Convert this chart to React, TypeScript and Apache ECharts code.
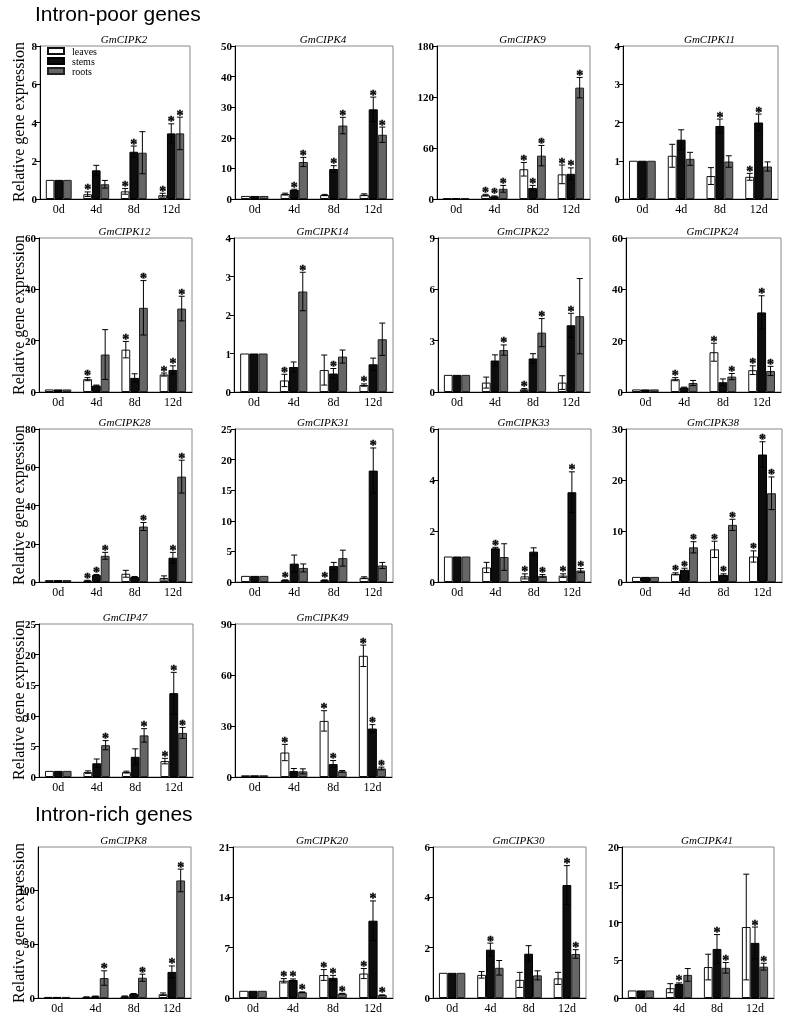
import React, { useEffect, useRef } from "react";
import * as echarts from "echarts";

const genes = [
  "GmCIPK2", "GmCIPK4", "GmCIPK9", "GmCIPK11",
  "GmCIPK12", "GmCIPK14", "GmCIPK22", "GmCIPK24",
  "GmCIPK28", "GmCIPK31", "GmCIPK33", "GmCIPK38",
  "GmCIP47", "GmCIPK49",
  "GmCIPK8", "GmCIPK20", "GmCIPK30", "GmCIPK41",
];
const yMax = [8, 50, 180, 4, 60, 4, 9, 60, 80, 25, 6, 30, 25, 90, 140, 21, 6, 20];
const yStep = [2, 10, 60, 1, 20, 1, 3, 20, 20, 5, 2, 10, 5, 30, 50, 7, 2, 5];
const categories = ["0d", "4d", "8d", "12d"];
const tissues = ["leaves", "stems", "roots"];
const groupTitles = ["Intron-poor genes", "Intron-rich genes"];
const yTitle = "Relative gene expression";

const leavesMean = [
  [1, 0.25, 0.4, 0.2], [1, 1.6, 1.3, 1.4], [1, 4.5, 35, 29], [1, 1.13, 0.6, 0.58],
  [1, 5, 16.5, 6.8], [1, 0.3, 0.57, 0.18], [1, 0.55, 0.15, 0.55], [1, 5, 15.5, 8.5],
  [1, 0.7, 4.3, 2.1], [1, 0.3, 0.3, 0.7], [1, 0.57, 0.22, 0.25], [1, 1.6, 6.4, 5],
  [1, 0.8, 0.8, 2.6], [1, 14.4, 33, 71.3],
  [1, 0.8, 1.5, 3.5], [1, 2.4, 3.2, 3.4], [1, 0.92, 0.72, 0.78], [1, 1.3, 4.1, 9.4],
];
const leavesErr = [
  [0, 0.12, 0.15, 0.1], [0, 0.3, 0.2, 0.3], [0, 1, 8, 11], [0, 0.3, 0.22, 0.09],
  [0, 0.6, 3.2, 0.6], [0, 0.16, 0.39, 0.03], [0, 0.32, 0.05, 0.4], [0, 0.6, 3.5, 1.7],
  [0, 0.2, 1.8, 1.1], [0, 0.05, 0.05, 0.15], [0, 0.2, 0.1, 0.07], [0, 0.2, 1.6, 1.1],
  [0, 0.2, 0.15, 0.45], [0, 4.8, 6, 6.3],
  [0, 0.3, 0.4, 1.2], [0, 0.3, 0.75, 0.7], [0, 0.13, 0.3, 0.24], [0, 0.6, 1.7, 7],
];
const leavesSig = [
  "0111", "0000", "0111", "0001", "0111", "0101", "0010", "0111",
  "0100", "0110", "0011", "0111", "0001", "0111", "0000", "0111", "0000", "0000",
];

const stemsMean = [
  [1, 1.5, 2.47, 3.43], [1, 3, 9.8, 29.3], [1, 3, 13, 29.6], [1, 1.55, 1.91, 2.0],
  [1, 2.5, 5.5, 8.6], [1, 0.65, 0.48, 0.72], [1, 1.84, 1.96, 3.9], [1, 1.7, 3.8, 31],
  [1, 3.65, 2.6, 12.7], [1, 3.0, 2.6, 18.2], [1, 1.32, 1.19, 3.52], [1, 2.4, 1.4, 25],
  [1, 2.24, 3.3, 13.7], [1, 3.5, 7.6, 28.5],
  [1, 1.5, 3.8, 24.2], [1, 2.5, 2.8, 10.75], [1, 1.92, 1.76, 4.49], [1, 1.88, 6.5, 7.3],
];
const stemsErr = [
  [0, 0.26, 0.3, 0.5], [0, 0.2, 1.1, 4], [0, 0.6, 3, 7], [0, 0.26, 0.18, 0.22],
  [0, 0.2, 1.6, 1.6], [0, 0.13, 0.13, 0.16], [0, 0.33, 0.28, 0.7], [0, 0.2, 1.3, 6.5],
  [0, 0.3, 0.3, 2.8], [0, 1.4, 0.6, 3.7], [0, 0.04, 0.15, 0.8], [0, 0.3, 0.2, 2.5],
  [0, 0.7, 1.3, 3.4], [0, 1.5, 2.1, 2.3],
  [0, 0.3, 0.4, 5.5], [0, 0.15, 0.35, 2.75], [0, 0.26, 0.32, 0.77], [0, 0.12, 1.9, 2.1],
];
const stemsSig = [
  "0011", "0111", "0111", "0011", "0001", "0010", "0001", "0001",
  "0101", "0001", "0101", "0111", "0001", "0011", "0001", "0111", "0101", "0111",
];

const rootsMean = [
  [1, 0.77, 2.42, 3.43], [1, 12.1, 24, 21], [1, 12, 51, 131], [1, 1.05, 0.98, 0.85],
  [1, 14.6, 32.8, 32.5], [1, 2.61, 0.92, 1.37], [1, 2.45, 3.47, 4.43], [1, 3.5, 6.0, 8.2],
  [1, 13.7, 29, 55.1], [1, 2.3, 3.9, 2.7], [1, 0.98, 0.24, 0.45], [1, 6.8, 11.2, 17.4],
  [1, 5.2, 6.8, 7.2], [1, 3.3, 3.3, 5],
  [1, 18.5, 18.8, 109], [1, 0.8, 0.6, 0.4], [1, 1.2, 0.9, 1.75], [1, 3.06, 4.0, 4.15],
];
const rootsErr = [
  [0, 0.2, 1.1, 0.85], [0, 1.5, 2.7, 2.5], [0, 4, 12, 12], [0, 0.17, 0.15, 0.12],
  [0, 9.7, 10.6, 4.8], [0, 0.5, 0.17, 0.42], [0, 0.3, 0.82, 2.2], [0, 1.0, 1.2, 1.8],
  [0, 1.8, 2.1, 8.6], [0, 0.65, 1.3, 0.5], [0, 0.52, 0.05, 0.08], [0, 1.1, 1.1, 3.2],
  [0, 0.75, 1.1, 0.9], [0, 1.5, 0.5, 0.8],
  [0, 6.7, 3.3, 10.5], [0, 0.05, 0.05, 0.03], [0, 0.29, 0.18, 0.17], [0, 0.84, 0.7, 0.45],
];
const rootsSig = [
  "0001", "0111", "0111", "0000", "0011", "0100", "0110", "0011",
  "0111", "0000", "0011", "0111", "0111", "0001", "0111", "0111", "0001", "0011",
];

// layout: [left, top, right, bottom] of each plot frame (px)
const panelBoxes = [
  [40, 46, 190, 199], [235, 46, 393, 199], [437, 46, 590, 199], [623, 46, 778, 199],
  [39, 238, 192, 392], [234, 238, 393, 392], [438, 238, 590, 392], [626, 238, 781, 392],
  [39, 429, 192, 582], [235, 429, 393, 582], [438, 429, 591, 582], [626, 429, 782, 582],
  [39, 624, 193, 777], [235, 624, 392, 777],
  [38, 847, 191, 999], [233, 847, 393, 999], [433, 847, 586, 999], [622, 847, 774, 999],
];
const rowCenters = [122, 315, 505, 700, 923];
const headerY = [13, 813];

const BAR_FRAC = 0.23;
const SERIF = "Liberation Serif";
const barStyles = [
  { color: "#ffffff", borderColor: "#111", borderWidth: 1 },
  { color: "#0d0d0d", borderColor: "#000", borderWidth: 1 },
  { color: "#666666", borderColor: "#222", borderWidth: 1 },
];

export default function App() {
  const ref = useRef<HTMLDivElement>(null);
  useEffect(() => {
    if (!ref.current) return;
    const chart = echarts.init(ref.current, undefined, { renderer: "svg" });
    const means = [leavesMean, stemsMean, rootsMean];
    const errs = [leavesErr, stemsErr, rootsErr];
    const sigs = [leavesSig, stemsSig, rootsSig];

    const grid: any[] = [];
    const xAxis: any[] = [];
    const yAxis: any[] = [];
    const series: any[] = [];
    const graphic: any[] = [];

    genes.forEach((g, i) => {
      const [l, t, r, b] = panelBoxes[i];
      grid.push({
        left: l, top: t, width: r - l, height: b - t,
        show: true, borderColor: "#888", borderWidth: 1, containLabel: false,
      });
      xAxis.push({
        gridIndex: i, type: "category", data: categories,
        axisLine: { show: true, lineStyle: { color: "#000", width: 1 } },
        axisTick: { show: false },
        axisLabel: { fontFamily: SERIF, fontSize: 12, color: "#000", margin: 4 },
      });
      const ticks: number[] = [];
      for (let v = 0; v <= yMax[i]; v += yStep[i]) ticks.push(v);
      yAxis.push({
        gridIndex: i, type: "value", min: 0, max: yMax[i], interval: yStep[i],
        axisLine: { show: true, lineStyle: { color: "#000", width: 1 } },
        axisTick: { show: true, length: 4, lineStyle: { color: "#000" }, customValues: ticks },
        axisLabel: {
          fontFamily: SERIF, fontSize: 11, fontWeight: "bold", color: "#000", margin: 3,
          customValues: ticks,
        },
        splitLine: { show: false },
      });
      tissues.forEach((tn, k) => {
        series.push({
          type: "bar", name: tn, xAxisIndex: i, yAxisIndex: i,
          data: means[k][i], barWidth: BAR_FRAC * 100 + "%", barGap: "0%",
          itemStyle: barStyles[k], silent: true,
        });
      });
      tissues.forEach((tn, k) => {
        const data = categories.map((_, c) => [c, means[k][i][c], errs[k][i][c], sigs[k][i][c] === "1" ? 1 : 0]);
        series.push({
          type: "custom", name: "err-" + tn, xAxisIndex: i, yAxisIndex: i,
          data, silent: true, z: 5, itemStyle: { color: "#000" },
          renderItem: (params: any, api: any) => {
            const c = api.value(0);
            const m = api.value(1);
            const e = api.value(2);
            const s = api.value(3);
            const band = api.size([1, 0])[0];
            const off = (k - 1) * band * BAR_FRAC;
            const topPt = api.coord([c, m + e]);
            const botPt = api.coord([c, Math.max(0, m - e)]);
            const x = topPt[0] + off;
            const children: any[] = [];
            const cap = 3;
            const ls = { stroke: "#000", lineWidth: 1 };
            if (e > 0) {
              children.push({ type: "line", shape: { x1: x, y1: topPt[1], x2: x, y2: botPt[1] }, style: ls });
              children.push({ type: "line", shape: { x1: x - cap, y1: topPt[1], x2: x + cap, y2: topPt[1] }, style: ls });
              children.push({ type: "line", shape: { x1: x - cap, y1: botPt[1], x2: x + cap, y2: botPt[1] }, style: ls });
            }
            if (s) {
              children.push({
                type: "text",
                x, y: topPt[1] - 2,
                style: {
                  text: "*", x: 0, y: 0,
                  textAlign: "center", textVerticalAlign: "middle",
                  fill: "#000", stroke: "#000", lineWidth: 0.4,
                  fontSize: 14, fontWeight: "bold", fontFamily: SERIF,
                },
              });
            }
            return { type: "group", children };
          },
        });
      });
      graphic.push({
        type: "text", x: (l + r) / 2 + 9, y: t - 7,
        style: {
          text: g, textAlign: "center", textVerticalAlign: "middle",
          fontStyle: "italic", fontSize: 11, fontFamily: SERIF, fill: "#000",
        },
      });
    });

    rowCenters.forEach((cy) => {
      graphic.push({
        type: "text", x: 18, y: cy, rotation: Math.PI / 2,
        style: {
          text: yTitle, textAlign: "center", textVerticalAlign: "middle",
          fontSize: 16, fontFamily: SERIF, fill: "#000",
        },
      });
    });
    groupTitles.forEach((txt, k) => {
      graphic.push({
        type: "text", x: 35, y: headerY[k],
        style: {
          text: txt, textAlign: "left", textVerticalAlign: "middle",
          fontSize: 21, fontFamily: "Liberation Sans", fill: "#000",
        },
      });
    });

    chart.setOption({
      animation: false,
      backgroundColor: "transparent",
      grid, xAxis, yAxis, series, graphic,
      legend: {
        data: tissues, orient: "vertical", left: 47, top: 46, padding: 0,
        itemWidth: 16, itemHeight: 6, itemGap: 0, icon: "rect",
        textStyle: { fontFamily: SERIF, fontSize: 10, lineHeight: 10, color: "#000", padding: [0, 0, 0, 3] },
        selectedMode: false,
      },
    });
    return () => chart.dispose();
  }, []);
  return (
    <div
      ref={ref}
      style={{ position: "fixed", left: 0, top: 0, width: 787, height: 1014, willChange: "transform" }}
    />
  );
}
